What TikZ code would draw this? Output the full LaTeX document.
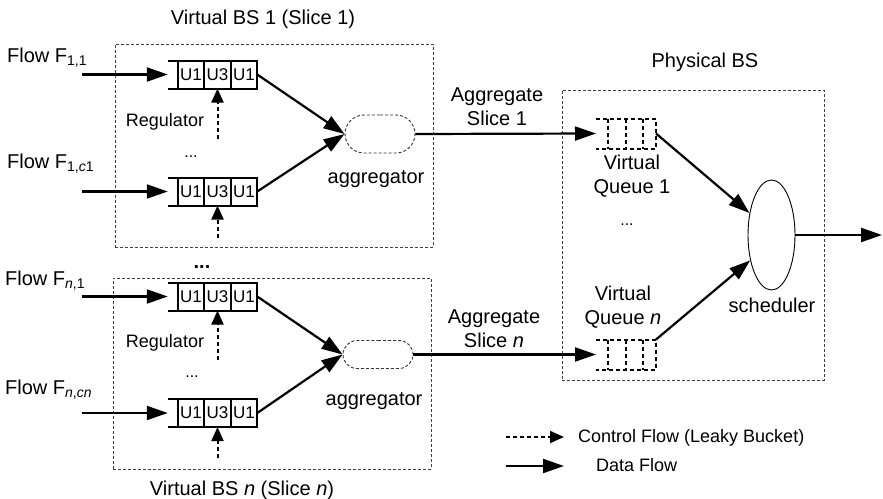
\documentclass[tikz,border=0pt]{standalone}
\usepackage{fontspec}
\setmainfont{Liberation Sans}
\usetikzlibrary{arrows.meta, positioning, shapes.geometric, shapes.misc, calc}
\tikzset{
    frame/.style={
        rectangle,
        draw=black!75,
        dash pattern=on 3pt off 2pt,
        line width=0.9pt,
        inner sep=0pt
    },
    cell/.style={
        rectangle,
        draw,
        line width=2pt,
        minimum width=26.5pt,
        minimum height=28pt,
        inner sep=0pt,
        outer sep=0pt,
        font=\fontsize{17}{17}\selectfont
    },
    qline/.style={line width=2pt},
    vq/.style={
        rectangle,
        minimum width=60pt,
        minimum height=30pt,
        inner sep=0pt,
        outer sep=0pt
    },
    vqline/.style={line width=2pt, dash pattern=on 4pt off 3pt},
    agg/.style={
        rounded rectangle,
        draw=black!80,
        dash pattern=on 3pt off 2pt,
        line width=0.9pt,
        minimum width=70pt,
        inner sep=0pt
    },
    sched/.style={
        ellipse,
        draw,
        line width=0.9pt,
        minimum width=47pt,
        minimum height=110pt,
        inner sep=0pt
    },
    lbl/.style={inner sep=0pt, anchor=base},
    small/.style={font=\fontsize{18}{22}\selectfont},
    dots/.style={inner sep=0pt, font=\fontsize{16}{16}\selectfont},
    data/.style={
        -{Triangle[length=21pt, width=14pt]},
        line width=2.2pt
    },
    control/.style={
        -{Triangle[length=14pt, width=12pt]},
        line width=2pt,
        dash pattern=on 4pt off 3pt
    }
}
\begin{document}
\begin{tikzpicture}[x=1pt, y=-1pt, font=\fontsize{20}{24}\selectfont]
    \useasboundingbox (0,0) rectangle (883,498);

    % frames of the base stations
    \node[frame, minimum width=318pt, minimum height=203pt] (vbs1) at (274,145.5) {};
    \node[frame, minimum width=318pt, minimum height=191pt] (vbsn) at (272,373.5) {};
    \node[frame, minimum width=262pt, minimum height=290pt] (pbs)  at (693,235)   {};

    \node[lbl] (vbs1title) at (263,24)  {Virtual BS 1 (Slice 1)};
    \node[lbl] (vbsntitle) at (242,495) {Virtual BS \textit{n} (Slice \textit{n})};
    \node[lbl] (pbstitle)  at (705,67)  {Physical BS};

    % regulated flow queues
    \foreach \q/\y/\len in {a/74.5/50, b/191.5/32, c/296.5/49, d/413/31}{
        \node[cell]                   (\q1) at (191,\y) {U1};
        \node[cell, right=0pt of \q1] (\q2) {U3};
        \node[cell, right=0pt of \q2] (\q3) {U1};
        \draw[qline] (\q1.north west) -- ++(-10,0);
        \draw[qline] (\q1.south west) -- ++(-10,0);
        \coordinate (in\q)  at (82,\y);
        \coordinate (ctl\q) at ($(\q2.south)+(0,\len)$);
        \draw[data]    (in\q)  -- ([xshift=-10pt]\q1.west);
        \draw[control] (ctl\q) -- (\q2.south);
    }

    \node[lbl, anchor=base west] (fa) at (7,62)  {Flow F\textsubscript{1,1}};
    \node[lbl, anchor=base west] (fb) at (7,168) {Flow F\textsubscript{1,\textit{c}1}};
    \node[lbl, anchor=base west] (fc) at (5,285) {Flow F\textsubscript{\textit{n},1}};
    \node[lbl, anchor=base west] (fd) at (5,394) {Flow F\textsubscript{\textit{n},\textit{cn}}};

    \node[lbl, small] (rega) at (165,126) {Regulator};
    \node[lbl, small] (regc) at (165,347) {Regulator};

    \node[dots] (dotsa) at (191,157) {...};
    \node[dots] (dotsc) at (192,377) {...};
    \node[dots] (dotsq) at (627,225) {...};
    \node[inner sep=0pt, font=\fontsize{20}{20}\selectfont\bfseries] (dotsbs) at (202,267) {...};

    % aggregators
    \node[agg, minimum height=38pt] (agg1) at (380,134)   {};
    \node[agg, minimum height=28pt] (aggn) at (378,354.5) {};
    \node[lbl] (agg1lbl) at (376,183) {aggregator};
    \node[lbl] (aggnlbl) at (374,405) {aggregator};

    \draw[data] (a3.east) -- (agg1.west);
    \draw[data] (b3.east) -- (agg1.west);
    \draw[data] (c3.east) -- (aggn.west);
    \draw[data] (d3.east) -- (aggn.west);

    % virtual queues
    \node[vq] (vq1) at (626,133.5) {};
    \node[vq] (vqn) at (626,354.5) {};
    \foreach \v in {vq1, vqn}{
        \draw[vqline] (\v.north west) -- (\v.north east) -- (\v.south east) -- (\v.south west);
        \foreach \f in {0.2, 0.5, 0.78}
            \draw[vqline] ($(\v.north west)!\f!(\v.north east)$) -- ($(\v.south west)!\f!(\v.south east)$);
    }

    \node[lbl, align=center] (agglbl1) at (497,125) {Aggregate\\Slice 1};
    \node[lbl, align=center] (agglbln) at (494,347) {Aggregate\\Slice \textit{n}};
    \node[lbl, align=center] (vq1lbl)  at (632,193) {Virtual\\Queue 1};
    \node[lbl, align=center] (vqnlbl)  at (623,324) {Virtual\\Queue \textit{n}};

    % scheduler
    \node[sched] (sched) at (771.5,235) {};
    \node[lbl] (schedlbl) at (772,312) {scheduler};
    \coordinate (out) at (882,235);

    \draw[data] (agg1.east) -- (vq1.west);
    \draw[data] (aggn.east) -- (vqn.west);
    \draw[data] (vq1.east) -- (sched.135);
    \draw[data] (vqn.north east) -- (sched.230);
    \draw[data] (sched.east) -- (out);

    % legend
    \coordinate (lc0) at (506,437);
    \coordinate (lc1) at (564,437);
    \coordinate (ld0) at (506,466);
    \coordinate (ld1) at (564,466);
    \draw[control] (lc0) -- (lc1);
    \draw[data]    (ld0) -- (ld1);
    \node[lbl, small, anchor=base west] (lgctl)  at (578,442) {Control Flow (Leaky Bucket)};
    \node[lbl, small, anchor=base west] (lgdata) at (596,471) {Data Flow};
\end{tikzpicture}
\end{document}
